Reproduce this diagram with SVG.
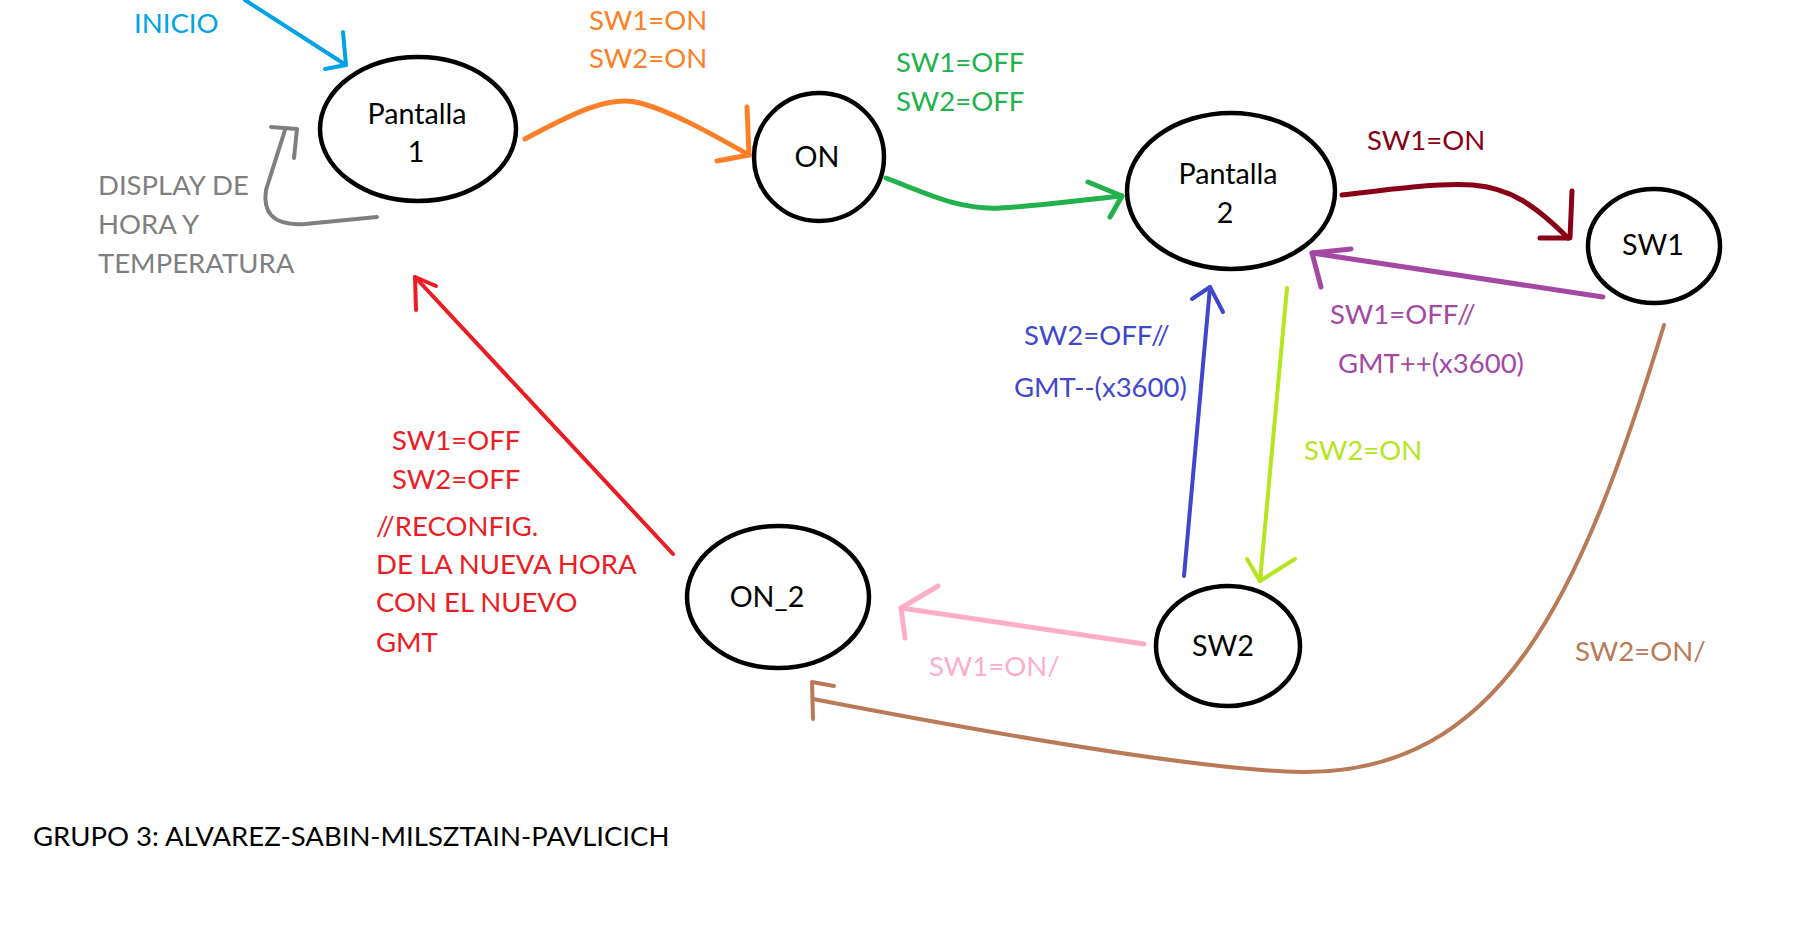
<svg xmlns="http://www.w3.org/2000/svg" width="1806" height="938" viewBox="0 0 1806 938">
<style>
text{font-family:Lato,"Liberation Sans",sans-serif;font-size:27.5px}
.n{fill:#fff;stroke:#000;stroke-width:4.5}
.nl{text-anchor:middle;fill:#000;font-size:28.7px}
.c{fill:none;stroke-linecap:round;stroke-linejoin:round}
</style>
<rect width="1806" height="938" fill="#fff"/>
<g id="connectors" class="c">
<g id="e-inicio" stroke="#00a2e8" stroke-width="4"><path d="M245,0 L346,65"/><path d="M343,32 L346,65 L325,69"/></g>
<g id="e-p1-on" stroke="#ff7f27" stroke-width="5"><path d="M525,139 C575,112 610,95 640,103 C670,111 705,130 749,155"/><path d="M747,107 L749,155 L717,161"/></g>
<g id="e-on-p2" stroke="#22b14c" stroke-width="5"><path d="M886,178 C930,195 960,210 1000,208 C1040,206 1080,200 1122,196"/><path d="M1088,182 L1122,196 L1110,217"/></g>
<g id="e-p2-sw1" stroke="#880015" stroke-width="5"><path d="M1342,195 C1400,188 1440,183 1473,185 C1510,188 1535,205 1568,238"/><path d="M1572,191 L1570,238 L1540,238"/></g>
<g id="e-sw1-p2" stroke="#a349a4" stroke-width="5"><path d="M1603,297 L1312,253"/><path d="M1351,249 L1312,253 L1321,287"/></g>
<g id="e-sw2-p2" stroke="#3f48cc" stroke-width="4"><path d="M1184,576 L1210,287"/><path d="M1192,299 L1210,287 L1223,312"/></g>
<g id="e-p2-sw2" stroke="#b5e61d" stroke-width="4"><path d="M1287,288 L1260,581"/><path d="M1247,559 L1260,581 L1295,559"/></g>
<g id="e-sw2-on2" stroke="#ffaec9" stroke-width="5"><path d="M1144,644 L901,608"/><path d="M938,586 L901,608 L905,638"/></g>
<g id="e-sw1-on2" stroke="#b97a57" stroke-width="4"><path d="M1664,325 C1580,600 1500,775 1300,772 C1200,770 1000,735 813,699"/><path d="M834,686 L812,682 L813,719"/></g>
<g id="e-on2-p1" stroke="#ed1c24" stroke-width="4"><path d="M673,554 L415,277"/><path d="M416,310 L415,277 L436,286"/></g>
<g id="e-self-p1" stroke="#7f7f7f" stroke-width="4"><path d="M377,217 L305,224 C270,226 263,210 266,190 L285,130"/><path d="M271,127 L297,129 L294,158"/></g>
</g>
<g id="pantalla1"><ellipse class="n" cx="418" cy="129" rx="98" ry="72"/><text class="nl" x="417" y="124">Pantalla</text><text class="nl" x="416" y="162">1</text></g>
<g id="on"><ellipse class="n" cx="819" cy="157" rx="65" ry="64"/><text class="nl" x="817" y="167">ON</text></g>
<g id="pantalla2"><ellipse class="n" cx="1231" cy="191" rx="104" ry="78"/><text class="nl" x="1228" y="184">Pantalla</text><text class="nl" x="1225" y="223">2</text></g>
<g id="sw1"><ellipse class="n" cx="1654" cy="246" rx="66" ry="57"/><text class="nl" x="1653" y="255">SW1</text></g>
<g id="on2"><ellipse class="n" cx="778" cy="597" rx="91" ry="71"/><text class="nl" x="767" y="607">ON_2</text></g>
<g id="sw2"><ellipse class="n" cx="1228" cy="646" rx="72" ry="60"/><text class="nl" x="1223" y="656">SW2</text></g>
<g id="labels">
<text x="134" y="33" fill="#00a2e8">INICIO</text>
<text x="589" y="30" fill="#ff7f27">SW1=ON</text>
<text x="589" y="68" fill="#ff7f27">SW2=ON</text>
<text x="896" y="72" fill="#22b14c">SW1=OFF</text>
<text x="896" y="111" fill="#22b14c">SW2=OFF</text>
<text x="1367" y="150" fill="#880015">SW1=ON</text>
<text x="1330" y="324" fill="#a349a4">SW1=OFF//</text>
<text x="1338" y="373" fill="#a349a4">GMT++(x3600)</text>
<text x="1024" y="345" fill="#3f48cc">SW2=OFF//</text>
<text x="1014" y="397" fill="#3f48cc">GMT--(x3600)</text>
<text x="1304" y="460" fill="#b5e61d">SW2=ON</text>
<text x="929" y="676" fill="#ffaec9">SW1=ON/</text>
<text x="1575" y="661" fill="#b97a57">SW2=ON/</text>
<text x="392" y="450" fill="#ed1c24">SW1=OFF</text>
<text x="392" y="489" fill="#ed1c24">SW2=OFF</text>
<text x="376" y="536" fill="#ed1c24">//RECONFIG.</text>
<text x="376" y="574" fill="#ed1c24">DE LA NUEVA HORA</text>
<text x="376" y="612" fill="#ed1c24">CON EL NUEVO</text>
<text x="376" y="652" fill="#ed1c24">GMT</text>
<text x="98" y="195" fill="#7f7f7f">DISPLAY DE</text>
<text x="98" y="234" fill="#7f7f7f">HORA Y</text>
<text x="98" y="273" fill="#7f7f7f">TEMPERATURA</text>
<text x="33" y="846" fill="#000">GRUPO 3: ALVAREZ-SABIN-MILSZTAIN-PAVLICICH</text>
</g>
</svg>
